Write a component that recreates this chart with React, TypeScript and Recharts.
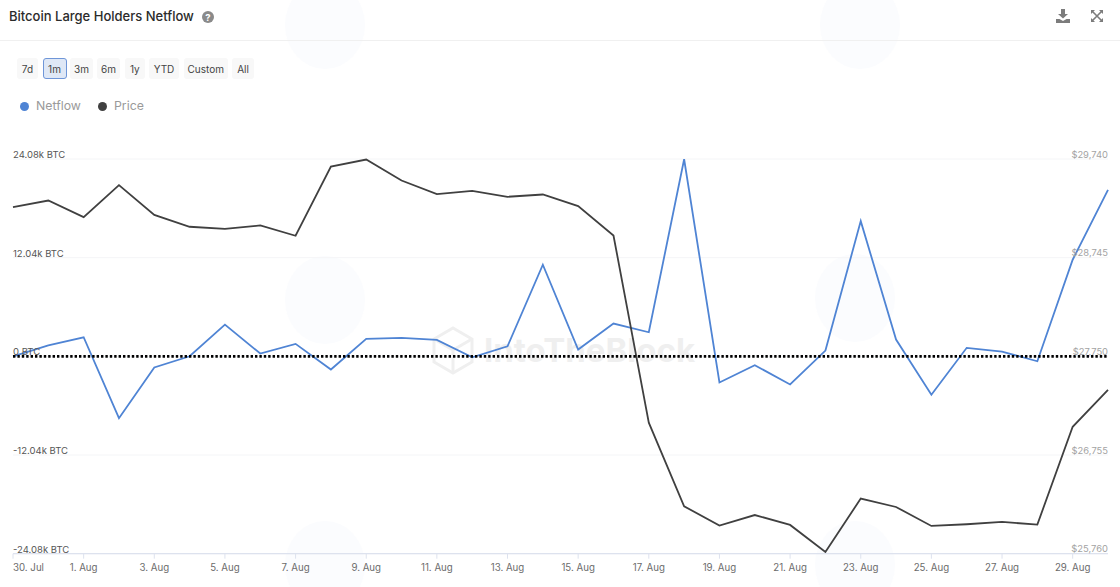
import React from "react";
import { LineChart, Line, XAxis, YAxis, CartesianGrid, ReferenceLine, Legend } from "recharts";

const dates = [
  "30. Jul", "31. Jul", "1. Aug", "2. Aug", "3. Aug", "4. Aug", "5. Aug", "6. Aug", "7. Aug", "8. Aug", "9. Aug",
  "10. Aug", "11. Aug", "12. Aug", "13. Aug", "14. Aug", "15. Aug", "16. Aug", "17. Aug", "18. Aug", "19. Aug",
  "20. Aug", "21. Aug", "22. Aug", "23. Aug", "24. Aug", "25. Aug", "26. Aug", "27. Aug", "28. Aug", "29. Aug", "30. Aug",
];
const netflow = [
  10, 1350, 2330, -7540, -1360, 10, 3870, 340, 1520, -1610, 2130, 2250, 2010, -110, 1230, 11180,
  830, 4000, 2940, 24050, -3190, -1080, -3430, 710, 16500, 2050, -4690, 1040, 580, -600, 11790, 20320,
];
const price = [
  29255, 29321, 29154, 29476, 29177, 29057, 29036, 29070, 28966, 29664, 29735, 29523, 29386, 29419, 29359, 29382,
  29265, 28969, 27081, 26238, 26044, 26150, 26050, 25778, 26316, 26231, 26040, 26057, 26080, 26054, 27040, 27413,
];
const netflowTicks = [-24080, -12040, 0, 12040, 24080];
const priceTicks = [25760, 26755, 27750, 28745, 29740];
const ranges = [
  { label: "7d", left: 17, width: 21 },
  { label: "1m", left: 42.5, width: 24, active: true },
  { label: "3m", left: 70, width: 23 },
  { label: "6m", left: 97, width: 23 },
  { label: "1y", left: 124.5, width: 20.5 },
  { label: "YTD", left: 149, width: 30 },
  { label: "Custom", left: 183.5, width: 44.5 },
  { label: "All", left: 232, width: 22 },
];
const blobs = [
  [325, 25], [860, 25], [325, 300], [855, 298], [325, 565], [855, 565],
];

const rows = dates.map((date, i) => ({ date, netflow: netflow[i], price: price[i] }));
const FONT = "Inter, 'Liberation Sans', sans-serif";
const PLOT_LEFT = 13;
const PLOT_RIGHT = 1108;

const formatNet = (v: number) => (v === 0 ? "0 BTC" : `${(v / 1000).toFixed(2)}k BTC`);
const formatPrice = (v: number) => `$${v.toLocaleString("en-US")}`;

const LeftTick = ({ y, payload }: any) => (
  <text x={PLOT_LEFT} y={y - 1} fontSize={9.5} fontFamily={FONT} fill="#555">
    {formatNet(payload.value)}
  </text>
);
const RightTick = ({ y, payload }: any) => (
  <text x={PLOT_RIGHT} y={y - 1.5} textAnchor="end" fontSize={9.4} fontFamily={FONT} fill="#a3a3a3">
    {formatPrice(payload.value)}
  </text>
);
const BottomTick = ({ x, payload, index }: any) => (
  <text
    x={index === 0 ? PLOT_LEFT : x}
    y={570.5}
    textAnchor={index === 0 ? "start" : "middle"}
    fontSize={9.7}
    fontFamily={FONT}
    fill="#6b6b6b"
  >
    {payload.value}
  </text>
);

const LegendContent = ({ payload }: any) => (
  <div style={{ position: "relative", height: 20, fontFamily: FONT, fontSize: 12.3, color: "#9a9a9a" }}>
    {(payload || []).map((p: any, i: number) => {
      const left = i === 0 ? 0 : 78;
      return (
        <span key={p.value} style={{ position: "absolute", left, top: 0, lineHeight: "20px", whiteSpace: "nowrap" }}>
          <span
            style={{
              position: "absolute", left: 0, top: 6, width: 9, height: 9, borderRadius: "50%", background: p.color,
            }}
          />
          <span style={{ marginLeft: 16.5 }}>{p.value}</span>
        </span>
      );
    })}
  </div>
);

export default function App() {
  return (
    <div style={{ position: "absolute", left: 0, top: 0, width: 1120, height: 587, overflow: "hidden", background: "#fff", fontFamily: FONT }}>
      <svg width={1120} height={587} style={{ position: "absolute", left: 0, top: 0 }}>
        {blobs.map(([cx, cy], i) => (
          <ellipse key={i} cx={cx} cy={cy} rx={40} ry={44} fill="#fbfcfe" />
        ))}
        <g stroke="#efefef" strokeWidth={3} fill="none">
          <path d="M453 328 L472 339 L472 362 L453 373 L434 362 L434 339 Z" />
          <path d="M434 339 L453 350 L472 339 M453 350 L453 373" />
        </g>
        <text x={484} y={362} fontFamily={FONT} fontWeight={700} fontSize={33} fill="#efefef">IntoTheBlock</text>
      </svg>

      <div style={{ position: "absolute", left: 9, top: 7, fontSize: 13, lineHeight: "18px", fontWeight: 500, color: "#2b2b2b", whiteSpace: "nowrap" }}>
        Bitcoin Large Holders Netflow
      </div>
      <svg width={14} height={14} style={{ position: "absolute", left: 201, top: 9.5 }}>
        <circle cx={7} cy={7} r={6} fill="#8a8a8a" />
        <text x={7} y={10.5} textAnchor="middle" fontSize={9.5} fontWeight={700} fontFamily={FONT} fill="#fff">?</text>
      </svg>
      <svg width={16} height={16} style={{ position: "absolute", left: 1055, top: 8 }} viewBox="0 0 16 16">
        <path d="M6 1 H10 V6 H13 L8 10.5 L3 6 H6 Z M1 11 H4.5 L8 13 L11.5 11 H15 V15 H1 Z" fill="#7c7c7c" />
      </svg>
      <svg width={14} height={14} style={{ position: "absolute", left: 1089.5, top: 9 }} viewBox="0 0 14 14">
        <path d="M1 1 H5 L1 5 Z M13 1 V5 L9 1 Z M1 13 V9 L5 13 Z M13 13 H9 L13 9 Z" fill="#7c7c7c" />
        <path d="M2 2 L12 12 M12 2 L2 12" stroke="#7c7c7c" strokeWidth={1.6} />
      </svg>
      <div style={{ position: "absolute", left: 0, top: 40, width: 1120, height: 1, background: "#f0f0f0" }} />

      {ranges.map((r) => (
        <div
          key={r.label}
          style={{
            position: "absolute", left: r.left, top: 58, width: r.width, height: 21, boxSizing: "border-box",
            borderRadius: 3, background: r.active ? "#dfe8f6" : "#f8f8f8",
            border: r.active ? "1.4px solid #6f96d8" : "none", textAlign: "center",
            lineHeight: r.active ? "20px" : "23px", fontSize: 10, color: "#444",
          }}
        >
          {r.label}
        </div>
      ))}

      <div style={{ position: "absolute", left: 0, top: 0 }}>
        <LineChart
          width={1120}
          height={587}
          data={rows}
          margin={{ top: 159, right: 11, bottom: 32.3, left: 12 }}
        >
          <CartesianGrid yAxisId="left" vertical={false} stroke="#f4f5f7" strokeWidth={1} />
          <XAxis
            dataKey="date"
            interval={1}
            height={1}
            tickSize={5}
            axisLine={{ stroke: "#dde2ee", strokeWidth: 1.2 }}
            tickLine={{ stroke: "#dde2ee" }}
            tick={<BottomTick />}
          />
          <YAxis
            yAxisId="left"
            width={1}
            domain={[-24080, 24080]}
            ticks={netflowTicks}
            axisLine={false}
            tickLine={false}
            tick={<LeftTick />}
          />
          <YAxis
            yAxisId="right"
            orientation="right"
            width={1}
            domain={[25760, 29740]}
            ticks={priceTicks}
            axisLine={false}
            tickLine={false}
            tick={<RightTick />}
          />
          <Legend
            verticalAlign="middle"
            align="center"
            layout="horizontal"
            content={<LegendContent />}
            wrapperStyle={{ position: "absolute", left: 19.5, top: 96, width: 200, height: 20 }}
          />
          <Line yAxisId="left" dataKey="netflow" name="Netflow" stroke="#4f84d4" strokeWidth={1.8} dot={false} activeDot={false} isAnimationActive={false} />
          <Line yAxisId="right" dataKey="price" name="Price" stroke="#404040" strokeWidth={1.8} dot={false} activeDot={false} isAnimationActive={false} />
          <ReferenceLine yAxisId="left" y={0} stroke="#000" strokeWidth={2.6} strokeDasharray="2.4 2" />
        </LineChart>
      </div>
    </div>
  );
}
